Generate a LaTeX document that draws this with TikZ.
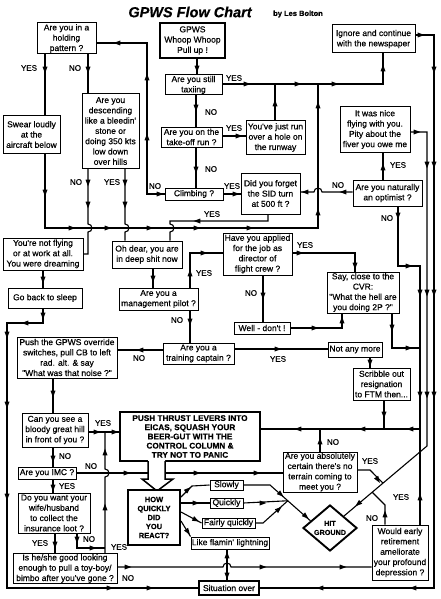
\documentclass[tikz,border=0pt]{standalone}
\usepackage{fontspec}
\newfontfamily\scanf{Liberation Sans}[FakeBold=0.5]
\usetikzlibrary{shapes.geometric,calc}
\newcommand\tip[3]{\fill[shift={(#1,#2)},rotate=#3] (3.4,0) -- (-3.4,2.5) -- (-3.4,-2.5) -- cycle;}
\newcommand\arR[2]{\tip{#1}{#2}{0}}
\newcommand\arL[2]{\tip{#1}{#2}{180}}
\newcommand\arU[2]{\tip{#1}{#2}{90}}
\newcommand\arD[2]{\tip{#1}{#2}{-90}}
\tikzset{
  box/.style={draw, line width=1pt, align=center, inner sep=0.5pt, fill=white,
    font=\scanf\fontsize{8.5}{10.3}\selectfont},
  heavy/.style={line width=1.9pt},
  lbl/.style={font=\scanf\fontsize{8}{9}\selectfont, inner sep=0},
  con/.style={line width=1.1pt},
}
\begin{document}
\begin{tikzpicture}[x=1pt,y=-1pt]
\useasboundingbox (0,0) rectangle (440,599);
\fill[white] (0,0) rectangle (440,599);

% titles
\node[font=\scanf\bfseries\itshape\fontsize{14.5}{16}\selectfont, inner sep=0] (title) at (190,12) {GPWS Flow Chart};
\node[font=\scanf\bfseries\fontsize{7.5}{9}\selectfont, inner sep=0] (author) at (298,14) {by Les Bolton};

% boxes
\node[box, minimum width=59pt, minimum height=31pt] (hold) at (66.5,38.5) {Are you in a\\holding\\pattern ?};
\node[box, heavy, minimum width=65pt, minimum height=35pt] (gpws) at (192.5,40.5) {GPWS\\Whoop Whoop\\Pull up !};
\node[box, minimum width=83pt, minimum height=28pt] (ign) at (373.5,39) {Ignore and continue\\with the newspaper};
\node[box, minimum width=57pt, minimum height=20pt] (taxi) at (193.5,85) {Are you still\\taxiing};
\node[box, minimum width=57pt, minimum height=37pt] (swear) at (31.5,134.5) {Swear loudly\\at the\\aircraft below};
\node[box, minimum width=57pt, minimum height=74pt] (desc) at (110.5,131) {Are you\\descending\\like a bleedin'\\stone or\\doing 350 kts\\low down\\over hills};
\node[box, minimum width=61pt, minimum height=20pt] (toff) at (191.5,137) {Are you on the\\take-off run ?};
\node[box, minimum width=59pt, minimum height=33pt] (hole) at (275.5,137.5) {You've just run\\over a hole on\\the runway};
\node[box, minimum width=70pt, minimum height=45pt] (nice) at (375,129.5) {It was nice\\flying with you.\\Pity about the\\fiver you owe me};
\node[box, minimum width=58pt, minimum height=12pt] (climb) at (194,194) {Climbing ?};
\node[box, minimum width=59pt, minimum height=41pt] (sid) at (270.5,193.5) {Did you forget\\the SID turn\\at 500 ft ?};
\node[box, minimum width=69pt, minimum height=26pt] (opt) at (387.5,193) {Are you naturally\\an optimist ?};
\node[box, minimum width=80pt, minimum height=32pt] (dream) at (43,254) {You're not flying\\or at work at all.\\You were dreaming};
\node[box, minimum width=70pt, minimum height=27pt] (oh) at (147,254.5) {Oh dear, you are\\in deep shit now};
\node[box, minimum width=69pt, minimum height=42pt] (appl) at (257.5,254) {Have you applied\\for the job as\\director of\\flight crew ?};
\node[box, minimum width=74pt, minimum height=20pt] (sleep) at (45,298) {Go back to sleep};
\node[box, minimum width=79pt, minimum height=22pt] (mgmt) at (158.5,299) {Are you a\\management pilot ?};
\node[box, minimum width=72pt, minimum height=41pt] (cvr) at (363,292.5) {Say, close to the\\CVR:\\"What the hell are\\you doing 2P ?"};
\node[box, minimum width=56pt, minimum height=12pt] (well) at (262,328) {Well - don't !};
\node[box, minimum width=100pt, minimum height=41pt] (push) at (67,357.5) {Push the GPWS override\\switches, pull CB to left\\rad. alt. \& say\\"What was that noise ?"};
\node[box, minimum width=71pt, minimum height=21pt] (train) at (198.5,353.5) {Are you a\\training captain ?};
\node[box, minimum width=54pt, minimum height=15pt] (notany) at (355,349.5) {Not any more};
\node[box, minimum width=57pt, minimum height=32pt] (scrib) at (381.5,384) {Scribble out\\resignation\\to FTM then...};
\node[box, minimum width=66pt, minimum height=34pt] (hill) at (55,430) {Can you see a\\bloody great hill\\in front of you ?};
\node[box, line width=2.2pt, minimum width=140pt, minimum height=49pt, font=\scanf\bfseries\fontsize{8.2}{9.2}\selectfont] (thrust) at (190,436.5) {PUSH THRUST LEVERS INTO\\EICAS, SQUASH YOUR\\BEER-GUT WITH THE\\CONTROL COLUMN \&\\TRY NOT TO PANIC};
\node[box, minimum width=58pt, minimum height=12pt] (imc) at (47,473) {Are you IMC ?};
\node[box, minimum width=74pt, minimum height=40pt] (cert) at (320,472) {Are you absolutely\\certain there's no\\terrain coming to\\meet you ?};
\node[box, minimum width=72pt, minimum height=40pt] (wife) at (54,513) {Do you want your\\wife/husband\\to collect the\\insurance loot ?};
\node[box, minimum width=56pt, minimum height=55pt] (would) at (400,552.5) {Would early\\retirement\\ameliorate\\your profound\\depression ?};
\node[box, minimum width=104pt, minimum height=29pt] (he) at (65,568.5) {Is he/she good looking\\enough to pull a toy-boy/\\bimbo after you've gone ?};
\node[box, heavy, minimum width=60pt, minimum height=14pt] (sit) at (229,588) {Situation over};
\node[box, minimum width=33pt, minimum height=10pt] (slow) at (226.5,485) {Slowly};
\node[box, minimum width=33pt, minimum height=10pt] (quick) at (226.5,503) {Quickly};
\node[box, minimum width=53pt, minimum height=10pt] (fairly) at (228.5,523) {Fairly quickly};
\node[box, minimum width=78pt, minimum height=12pt] (like) at (230,543) {Like flamin' lightning};
\node[draw, diamond, line width=1.9pt, fill=white, minimum width=54pt, minimum height=46pt, inner sep=0, align=center,
  font=\scanf\bfseries\fontsize{7.2}{9}\selectfont] (hit) at (330,528) {HIT\\GROUND};

% ---------- connectors ----------
% holding pattern
\draw[con] (hold.south -| 45,0) -- (swear.north -| 45,0); \arD{45}{70}
\node[lbl] (l1) at (29,68) {YES};
\draw[con] (hold.south -| 88,0) -- (desc.north -| 88,0); \arD{88}{70}
\node[lbl] (l2) at (75,68) {NO};
% climbing NO -> holding
\draw[con] (climb.west) -- (147,194) -- (147,43) -- (hold.east |- 0,43);
\arR{160}{194} \arU{147}{137} \arU{147}{77} \arL{117}{43}
\node[lbl] (l3) at (155,186) {NO};
% gpws chain
\draw[con] (gpws.south -| 197,0) -- (taxi.north -| 197,0); \arD{197}{69}
\draw[con] (taxi.south -| 196,0) -- (toff.north -| 196,0); \arD{196}{108}
\node[lbl] (l4) at (211,112) {NO};
\draw[con] (toff.south -| 196,0) -- (climb.north -| 196,0); \arD{196}{170}
\node[lbl] (l5) at (211,169) {NO};
% taxiing YES -> ignore
\draw[con] (taxi.east |- 0,84) -- (383,84) -- (ign.south -| 383,0);
\arR{247}{84} \arR{298}{84} \arR{335}{84} \arU{383}{68}
\node[lbl] (l6) at (234,78) {YES};
\draw[con] (hole.north -| 275,0) -- (275,84); \arU{275}{103}
\draw[con] (toff.east |- 0,136) -- (hole.west |- 0,136); \arR{239}{136}
\node[lbl] (l7) at (234,128) {YES};
\draw[con] (climb.east |- 0,194) -- (sid.west |- 0,194); \arR{236}{194}
\node[lbl] (l8) at (232,186) {YES};
% SID YES -> oh dear
\draw[con] (sid.south -| 268,0) -- (268,221) -- (170,221) -- (170,224) arc[start angle=-90,end angle=90,radius=4] -- (oh.north -| 170,0);
\arL{197}{221}
\node[lbl] (l9) at (212,214) {YES};
% main line
\draw[con] (swear.south -| 45,0) -- (45,228) -- (318,228) -- (318,84);
\arD{45}{193} \arR{72}{228} \arR{108}{228} \arR{150}{228} \arR{197}{228} \arR{250}{228} \arU{318}{212} \arU{318}{105}
% descending
\draw[con] (desc.south -| 88,0) -- (88,224) arc[start angle=-90,end angle=90,radius=4] -- (88,254) -- (dream.east |- 0,254);
\arD{88}{183} \arD{88}{205}
\node[lbl] (l10) at (76,182) {NO};
\draw[con] (desc.south -| 125,0) -- (125,224) arc[start angle=-90,end angle=90,radius=4] -- (oh.north -| 125,0);
\arD{125}{183} \arD{125}{205}
\node[lbl] (l11) at (112,182) {YES};
% optimist
\draw[con] (opt.west |- 0,192) -- (322,192) arc[start angle=0,end angle=-180,radius=4] -- (sid.east |- 0,192);
\arL{343}{192} \arL{305}{192}
\node[lbl] (l12) at (338,185) {NO};
\draw[con] (opt.north -| 383,0) -- (nice.south -| 383,0); \arU{383}{167}
\node[lbl] (l13) at (398,165) {YES};
% right-hand lines
\coordinate (d1) at (427,446);
\draw[con] (nice.east |- 0,132) -- (427,132) -- (d1) -- (hit.north east);
\arR{417}{132} \arD{427}{165} \arD{427}{293} \arD{427}{395} \tip{358}{504}{-140}
\draw[con] (ign.east |- 0,35) -- (434,35) -- (434,588) -- (sit.east |- 0,588);
\arR{421}{35} \arD{434}{70} \arD{434}{165} \arD{434}{293} \arD{434}{395} \arL{413}{588} \arL{320}{588}
\draw[con] (opt.south -| 398,0) -- (398,266) -- (420,266) -- (420,429) -- (thrust.east |- 0,429);
\arD{398}{216} \arR{409}{266} \arD{420}{293} \arD{420}{395} \arL{410}{429} \arL{362}{429} \arL{298}{429}
\node[lbl] (l14) at (387,218) {NO};
\draw[con] (would.north -| 420,0) -- (420,429); \arU{420}{497}
\node[lbl] (l15) at (401,497) {YES};
% applied
\draw[con] (appl.east |- 0,253) -- (355,253) -- (cvr.north -| 355,0); \arR{300}{253} \arD{355}{266}
\node[lbl] (l16) at (305,245) {YES};
\draw[con] (appl.south -| 263,0) -- (well.north -| 263,0); \arD{263}{296}
\node[lbl] (l17) at (251,293) {NO};
\draw[con] (well.east |- 0,328) -- (342,328) -- (cvr.south -| 342,0); \arR{315}{328} \arU{342}{320}
\draw[con] (cvr.south -| 392,0) -- (392,348) -- (420,348); \arD{392}{328} \arR{409}{348}
% management
\draw[con] (mgmt.north -| 190,0) -- (190,253) -- (appl.west |- 0,253); \arU{190}{273} \arR{204}{253}
\node[lbl] (l18) at (204,273) {YES};
\draw[con] (oh.south -| 153,0) -- (mgmt.north -| 153,0); \arD{153}{279}
\draw[con] (mgmt.south -| 190,0) -- (train.north -| 190,0); \arD{190}{322}
\node[lbl] (l19) at (177,320) {NO};
% training captain
\draw[con] (train.west |- 0,350) -- (push.east |- 0,350); \arL{140}{350}
\node[lbl] (l20) at (139,358) {NO};
\draw[con] (train.east |- 0,349) -- (notany.west |- 0,349); \arR{278}{349}
\node[lbl] (l21) at (278,359) {YES};
\draw[con] (notany.south -| 370,0) -- (scrib.north -| 370,0); \arD{370}{363}
\draw[con] (scrib.south -| 384,0) -- (384,429); \arD{384}{415}
% dreaming / sleep
\draw[con] (dream.south -| 43,0) -- (sleep.north -| 43,0); \arD{43}{280}
\draw[con] (sleep.south -| 43,0) -- (43,323) -- (7,323) -- (7,588) -- (sit.west |- 0,588);
\arD{43}{316} \arL{25}{323} \arD{7}{335} \arD{7}{405} \arD{7}{497} \arR{110}{588} \arR{150}{588}
% push GPWS override chain
\draw[con] (push.south -| 53,0) -- (hill.north -| 53,0); \arD{53}{394}
\draw[con] (hill.east |- 0,432) -- (thrust.west |- 0,432); \arR{97}{432} \arR{115}{432}
\node[lbl] (l22) at (103,423) {YES};
\draw[con] (hill.south -| 53,0) -- (imc.north -| 53,0); \arD{53}{459}
\node[lbl] (l23) at (65,456) {NO};
\draw[con] (imc.south -| 53,0) -- (wife.north -| 53,0); \arD{53}{488}
\node[lbl] (l24) at (67,486) {YES};
\draw[con] (imc.east |- 0,473) -- (cert.west |- 0,473); \arR{127}{473} \arR{197}{473} \arR{257}{473}
\node[lbl] (l25) at (91,466) {NO};
\draw[con] (he.north -| 105,0) -- (105,477) arc[start angle=90,end angle=-90,radius=4] -- (105,432);
\arU{105}{507} \arU{105}{452}
\node[lbl] (l26) at (119,547) {YES};
\draw[con] (wife.south -| 55,0) -- (he.north -| 55,0); \arD{55}{545}
\node[lbl] (l27) at (40,543) {YES};
\draw[con] (wife.south -| 77,0) -- (77,548) -- (105,548); \arD{77}{540} \arR{93}{548}
\node[lbl] (l28) at (89,539) {NO};
\draw[con] (he.east |- 0,567) -- (223,567) arc[start angle=180,end angle=360,radius=4] -- (would.west |- 0,567);
\arR{128}{567} \arR{263}{567} \arR{343}{567}
\node[lbl] (l29) at (128,578) {NO};
% hollow arrow thrust -> how
\fill[white] (148,460) -- (148,479) -- (142,479) -- (157,491) -- (173,479) -- (165,479) -- (165,460) -- cycle;
\draw[line width=1.5pt, line join=miter] (148,461) -- (148,479) -- (142,479) -- (157,491) -- (173,479) -- (165,479) -- (165,461);
\node[box, line width=2pt, minimum width=52pt, minimum height=55pt, font=\scanf\bfseries\fontsize{7.5}{9}\selectfont] (how) at (154,517.5) {HOW\\QUICKLY\\DID\\YOU\\REACT?};
% reaction options
\draw[con] (how.east |- 0,497) -- (192,486) -- (slow.west); \tip{188}{489.5}{42}
\draw[con] (how.east |- 0,503) -- (quick.west); \arR{196}{503}
\draw[con] (how.east |- 0,512) -- (fairly.west); \tip{196}{520}{-27}
\draw[con] (how.east |- 0,521) -- (like.north west); \tip{188}{532}{-55}
\coordinate (s1) at (270,485);
\coordinate (s2) at ($(hit.west)!0.3!(hit.north)$);
\coordinate (jq) at ($(s1)!0.44!(s2)$);
\draw[con] (slow.east) -- (s1) -- (s2); \tip{281}{494.5}{-41} \tip{306}{516.5}{-41}
\draw[con] (quick.east) -- (jq); \arR{263}{503}
\draw[con] (fairly.east) -- (263,523) -- (jq); \tip{279}{509}{41}
\draw[con] (like.south -| 227,0) -- (sit.north -| 227,0); \arU{227}{555} \arD{227}{576}
% certain
\coordinate (jc) at ($(d1)!0.53!(hit.north east)$);
\draw[con] (cert.east |- 0,470) -- (370,470) -- (jc); \tip{378}{480}{-57}
\node[lbl] (l30) at (370,461) {YES};
\draw[con] (cert.north -| 320,0) -- (320,429); \arU{320}{441}
\node[lbl] (l31) at (333,442) {NO};
% would NO
\coordinate (jw) at ($(d1)!0.66!(hit.north east)$);
\draw[con] (would.north -| 385,0) -- (385,505) -- (jw); \arU{385}{514}
\node[lbl] (l32) at (372,518) {NO};
\end{tikzpicture}
\end{document}
